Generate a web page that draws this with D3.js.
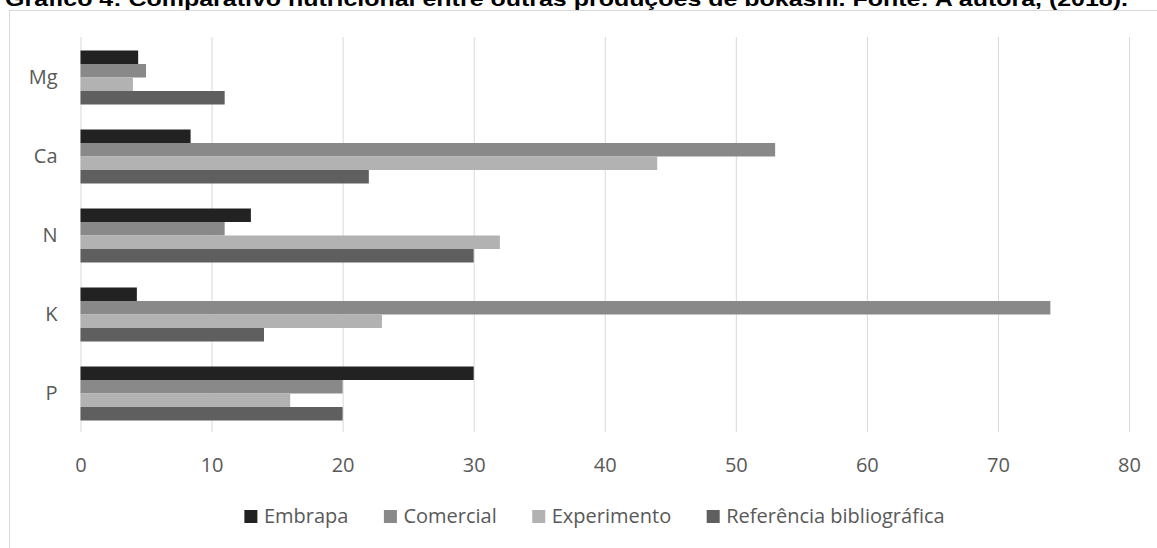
<!DOCTYPE html>
<html>
<head>
<meta charset="utf-8">
<script src="https://cdn.jsdelivr.net/npm/d3@7"></script>
<style>
  html, body { margin: 0; padding: 0; background: #fff; overflow: hidden; }
  svg { display: block; }
</style>
</head>
<body>
<svg id="chart" width="1157" height="548"></svg>
<script>
const titleText = "Gráfico 4: Comparativo nutricional entre outras produções de bokashi. Fonte: A autora, (2018).";
const categories = ["Mg", "Ca", "N", "K", "P"];
const seriesNames = ["Embrapa", "Comercial", "Experimento", "Referência bibliográfica"];
const embrapa     = [4.4, 8.4, 13, 4.3, 30];
const comercial   = [5.0, 53, 11, 74, 20];
const experimento = [4.0, 44, 32, 23, 16];
const referencia  = [11, 22, 30, 14, 20];
const xTicks = [0, 10, 20, 30, 40, 50, 60, 70, 80];
const colors = ["#222222", "#898989", "#b2b2b2", "#5f5f5f"];

const seriesValues = [embrapa, comercial, experimento, referencia];
const rows = categories.map((c, i) => ({
  cat: c,
  vals: seriesNames.map((s, j) => ({ s, v: seriesValues[j][i], j }))
}));

const svg = d3.select("#chart");
const font = "'Open Sans', 'Noto Sans', sans-serif";

// frame
svg.append("rect")
  .attr("x", 9.5).attr("y", 10.5)
  .attr("width", 1300).attr("height", 700)
  .attr("fill", "#fff").attr("stroke", "#d9d9d9").attr("stroke-width", 1);

// title (partially cut at top)
svg.append("text")
  .attr("x", 5).attr("y", 6)
  .attr("textLength", 1123).attr("lengthAdjust", "spacingAndGlyphs")
  .attr("font-family", "'Liberation Sans', Arial, sans-serif")
  .attr("font-weight", "bold").attr("font-size", 20)
  .attr("fill", "#000")
  .text(titleText);

const x = d3.scaleLinear().domain([0, 80]).range([80.5, 1129]);
const y = d3.scaleBand().domain(categories).range([38, 433])
  .paddingInner(25 / 79).paddingOuter(12.5 / 79);
const yInner = d3.scaleBand().domain(seriesNames).range([0, y.bandwidth()]);

// gridlines
const xAxis = d3.axisBottom(x).tickValues(xTicks).tickSize(-(433 - 38)).tickFormat(d3.format("d")).tickPadding(10);
const gx = svg.append("g").attr("transform", "translate(0,432)").call(xAxis);
gx.select(".domain").remove();
gx.selectAll(".tick line").attr("stroke", "#d9d9d9").attr("stroke-width", 1);
gx.selectAll(".tick text")
  .attr("font-family", font).attr("font-size", 20).attr("fill", "#595959")
  .attr("dy", null).attr("y", 40);

// bars
const groups = svg.append("g").selectAll("g").data(rows).join("g")
  .attr("transform", d => `translate(0,${y(d.cat)})`);
groups.selectAll("rect").data(d => d.vals).join("rect")
  .attr("x", x(0))
  .attr("y", d => yInner(d.s))
  .attr("width", d => x(d.v) - x(0))
  .attr("height", yInner.bandwidth())
  .attr("fill", d => colors[d.j]);

// category axis
const yAxis = d3.axisLeft(y).tickSize(0).tickPadding(23);
const gy = svg.append("g").attr("transform", `translate(${x(0)},0)`).call(yAxis);
gy.select(".domain").remove();
gy.selectAll(".tick text")
  .attr("font-family", font).attr("font-size", 20).attr("fill", "#595959");

// legend
const legend = svg.append("g");
const items = legend.selectAll("g").data(seriesNames).join("g");
items.append("rect").attr("width", 13).attr("height", 13).attr("y", -13)
  .attr("fill", (d, i) => colors[i]);
items.append("text").attr("x", 19.5).attr("y", 0)
  .attr("font-family", font).attr("font-size", 20).attr("fill", "#595959")
  .text(d => d);
let cx = 0;
items.each(function () {
  const w = d3.select(this).select("text").node().getComputedTextLength();
  d3.select(this).attr("transform", `translate(${cx},0)`);
  cx += 19.5 + w + 35.5;
});
const total = cx - 35.5;
legend.attr("transform", `translate(${594.5 - total / 2},523)`);
</script>
</body>
</html>
